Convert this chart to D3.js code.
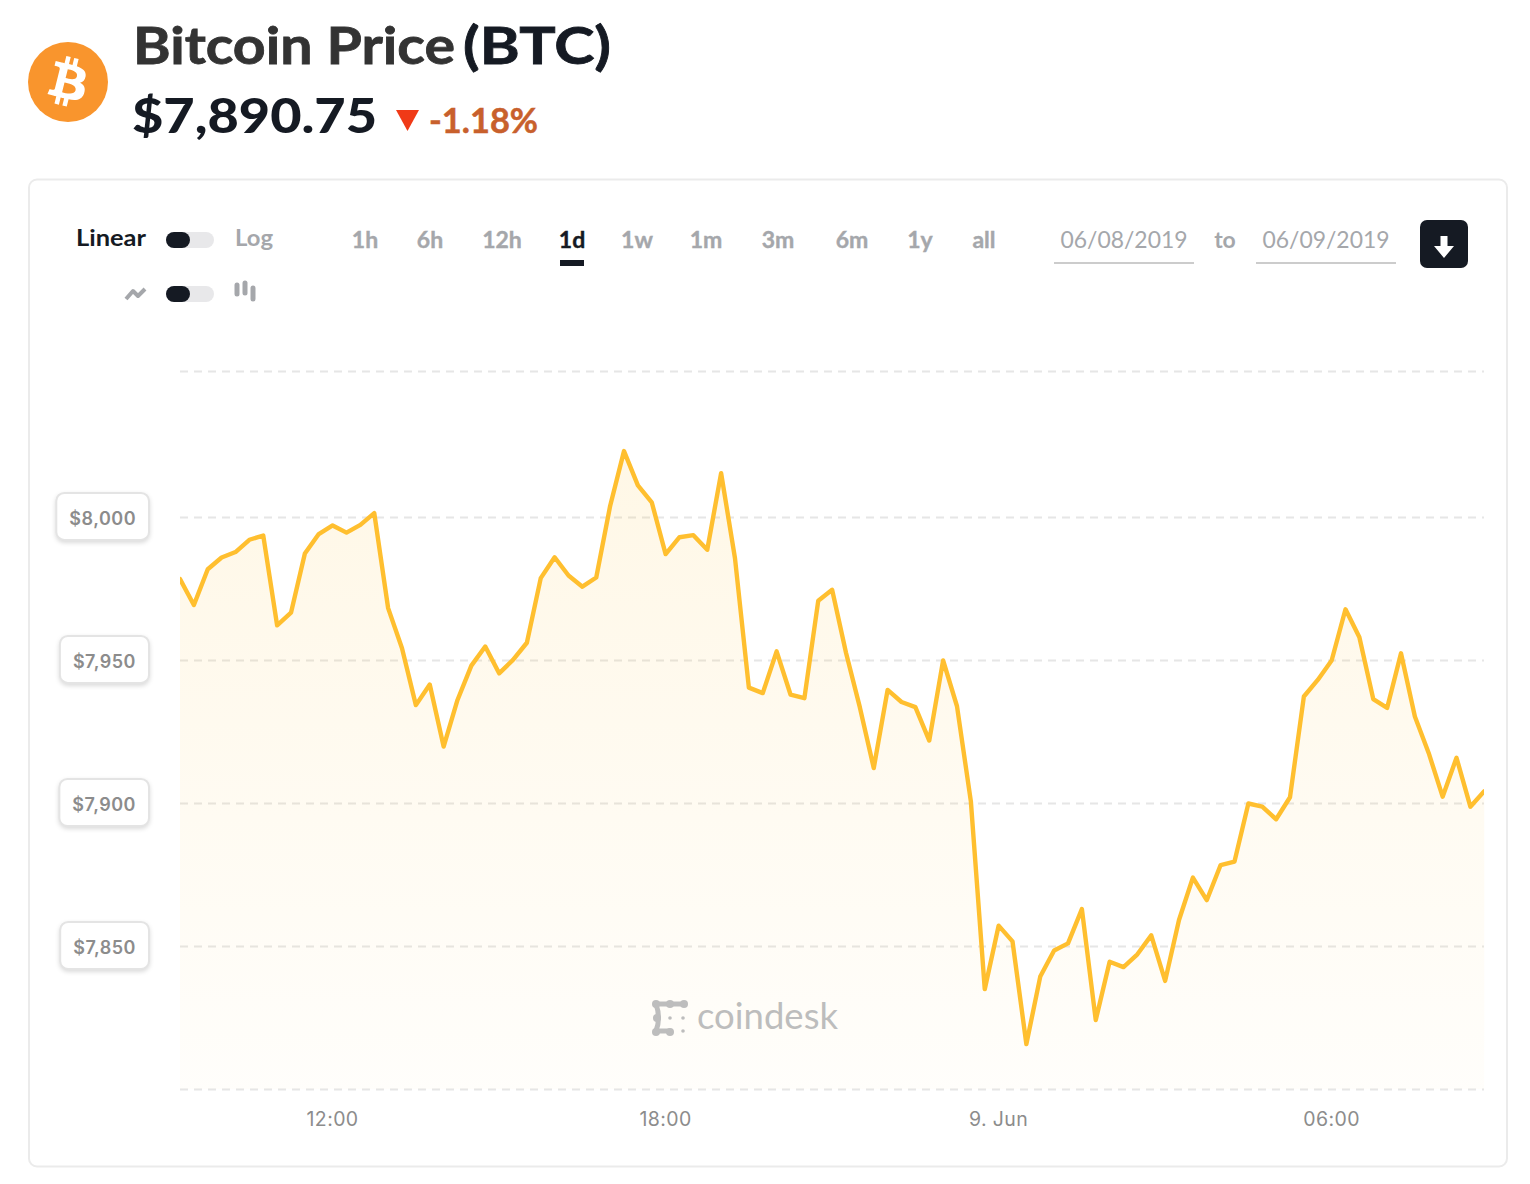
<!DOCTYPE html>
<html>
<head>
<script src="https://cdnjs.cloudflare.com/ajax/libs/d3/7.8.5/d3.min.js"></script>
  <meta charset="utf-8">
  <title>Bitcoin Price (BTC)</title>
</head>
<style>

body {
  margin: 0;
  background: #fff;
}

svg {
  display: block;
}

text {
  font-family: Lato, sans-serif;
}

.grid line {
  stroke: #e6e6e6;
  stroke-width: 2;
  stroke-dasharray: 8 6;
}

.ylabel text {
  font-family: Inter, sans-serif;
  fill: #8c8c8c;
  letter-spacing: .5px;
}

.ylabel rect {
  fill: #fff;
  stroke: #e4e4e4;
  stroke-width: 2;
  filter: drop-shadow(0 2px 2px rgba(0, 0, 0, .14));
}

</style>

<body>
<script>

// one price every 15 minutes
var prices = [
  7978.3, 7969.2, 7981.7, 7985.8, 7987.7, 7992.0, 7993.5, 7962.1, 7966.5, 7987.2,
  7994.0, 7997.0, 7994.5, 7997.2, 8001.3, 7968.1, 7954.1, 7934.2, 7941.4, 7919.7,
  7936.0, 7948.0, 7954.7, 7945.3, 7950.0, 7956.0, 7978.6, 7985.9, 7979.5, 7975.6,
  7978.8, 8003.8, 8023.0, 8011.0, 8005.1, 7987.0, 7992.9, 7993.6, 7988.5, 8015.3,
  7985.5, 7940.3, 7938.4, 7953.0, 7937.9, 7936.6, 7970.7, 7974.5, 7952.5, 7933.4,
  7912.2, 7939.5, 7935.3, 7933.5, 7921.8, 7949.8, 7933.8, 7900.5, 7834.9, 7857.1,
  7851.6, 7815.7, 7839.3, 7848.4, 7850.9, 7862.9, 7824.1, 7844.5, 7842.6, 7847.1,
  7853.7, 7837.8, 7859.1, 7873.9, 7866.0, 7878.3, 7879.5, 7899.8, 7898.7, 7894.3,
  7902.0, 7937.2, 7943.0, 7949.8, 7967.7, 7957.9, 7936.3, 7933.2, 7952.3, 7930.2,
  7917.4, 7902.2, 7915.8, 7898.7, 7904.1
];
var startTime = Date.UTC(2019, 5, 8, 9, 15);
var stepMinutes = 15;

var yLabels = [8000, 7950, 7900, 7850];
var yGrid = [7800, 7850, 7900, 7950, 8000, 8051];
var xTicks = [new Date(Date.UTC(2019, 5, 8, 12)), new Date(Date.UTC(2019, 5, 8, 18)), new Date(Date.UTC(2019, 5, 9, 0)), new Date(Date.UTC(2019, 5, 9, 6))];

var ranges = ['1h', '6h', '12h', '1d', '1w', '1m', '3m', '6m', '1y', 'all'];
var rangeCenters = [365, 430, 502, 572, 637, 706, 778, 852, 920, 984];
var activeRange = '1d';

var dark = '#151a23',
    grey = '#a5a7ab',
    orange = '#ffbf2f';

var times = prices.map(function(d, i) { return startTime + i * stepMinutes * 60000; });

var x = d3.scaleUtc().domain([times[0], times[times.length - 1]]).range([180, 1484.25]);
var y = d3.scaleLinear().domain([7800, 8051]).range([1089, 371]);

var svg = d3.select('body').append('svg').attr('width', 1530).attr('height', 1184);

function label(txt, px, py, size, weight, color, anchor, width) {
  var t = svg.append('text')
    .attr('x', px).attr('y', py)
    .attr('font-size', size).attr('font-weight', weight)
    .attr('fill', color).attr('text-anchor', anchor || 'start')
    .text(txt);
  if (width) t.attr('textLength', width).attr('lengthAdjust', 'spacingAndGlyphs');
  return t;
}

/* header */
var coin = svg.append('g').attr('transform', 'translate(28,42) scale(1.25)');
coin.append('circle').attr('cx', 32).attr('cy', 32).attr('r', 32).attr('fill', '#f9952d');
coin.append('path').attr('fill', '#fff')
  .attr('d', 'm46.103,27.444c0.637-4.258-2.605-6.547-7.038-8.074l1.438-5.768-3.511-0.875-1.4,5.616c-0.923-0.23-1.871-0.447-2.813-0.662l1.41-5.653-3.509-0.875-1.439,5.766c-0.764-0.174-1.514-0.346-2.242-0.527l0.004-0.018-4.842-1.209-0.934,3.75s2.605,0.597,2.55,0.634c1.422,0.355,1.679,1.296,1.636,2.042l-1.638,6.571c0.098,0.025,0.225,0.061,0.365,0.117-0.117-0.029-0.242-0.061-0.371-0.092l-2.296,9.205c-0.174,0.432-0.615,1.08-1.609,0.834,0.035,0.051-2.552-0.637-2.552-0.637l-1.743,4.019,4.569,1.139c0.85,0.213,1.683,0.436,2.503,0.646l-1.453,5.834,3.507,0.875,1.439-5.772c0.958,0.26,1.888,0.5,2.798,0.726l-1.434,5.745,3.511,0.875,1.453-5.823c5.987,1.133,10.489,0.676,12.384-4.739,1.527-4.36-0.076-6.875-3.226-8.515,2.294-0.529,4.022-2.038,4.483-5.155zm-8.022,11.249c-1.085,4.36-8.426,2.003-10.806,1.412l1.928-7.729c2.38,0.594,10.012,1.77,8.878,6.317zm1.086-11.312c-0.99,3.966-7.1,1.951-9.082,1.457l1.748-7.01c1.982,0.494,8.365,1.416,7.334,5.553z');

label('Bitcoin Price', 133, 64, 52, 700, '#333', 'start', 322).attr('stroke', '#333').attr('stroke-width', 0.8);
label('(BTC)', 463, 64, 52, 700, dark, 'start', 148).attr('stroke', dark).attr('stroke-width', 0.8);
label('$7,890.75', 132, 133, 47, 900, dark, 'start', 245);
svg.append('path').attr('d', 'M396,110H419L407.5,131Z').attr('fill', '#f03a17');
label('-1.18%', 429, 133, 35, 700, '#c8602c', 'start', 109).attr('stroke', '#c8602c').attr('stroke-width', 0.5);

/* card */
svg.append('rect').attr('x', 29).attr('y', 179.5).attr('width', 1478).attr('height', 987)
  .attr('rx', 8).attr('fill', '#fff').attr('stroke', '#ebebeb').attr('stroke-width', 2);

/* toggles */
function toggle(ty) {
  svg.append('rect').attr('x', 166).attr('y', ty).attr('width', 48).attr('height', 16).attr('rx', 8).attr('fill', '#e8e8ea');
  svg.append('rect').attr('x', 166).attr('y', ty).attr('width', 24).attr('height', 16).attr('rx', 8).attr('fill', dark);
}
label('Linear', 76, 246, 23, 700, dark, 'start', 70);
toggle(232);
label('Log', 235, 246, 23, 700, grey, 'start', 38);
toggle(286);

svg.append('path').attr('d', 'M126,299L133,291L138,296L145,289')
  .attr('fill', 'none').attr('stroke', grey).attr('stroke-width', 4).attr('stroke-linejoin', 'round');
svg.selectAll('.candle').data([[237, 285, 294], [245, 283, 293], [253, 288, 299]]).enter().append('line')
  .attr('class', 'candle')
  .attr('x1', function(d) { return d[0]; }).attr('x2', function(d) { return d[0]; })
  .attr('y1', function(d) { return d[1]; }).attr('y2', function(d) { return d[2]; })
  .attr('stroke', grey).attr('stroke-width', 5).attr('stroke-linecap', 'round');

/* range buttons */
ranges.forEach(function(r, i) {
  label(r, rangeCenters[i], 248, 23, 700, r === activeRange ? dark : grey, 'middle').attr('stroke', r === activeRange ? dark : grey).attr('stroke-width', 0.4);
});
svg.append('rect').attr('x', 560).attr('y', 260).attr('width', 24).attr('height', 6).attr('fill', dark);

/* dates */
label('06/08/2019', 1124, 248, 23, 400, grey, 'middle', 127);
label('to', 1225, 248, 23, 700, grey, 'middle');
label('06/09/2019', 1326, 248, 23, 400, grey, 'middle', 127);
svg.append('rect').attr('x', 1054).attr('y', 262).attr('width', 140).attr('height', 2).attr('fill', '#ccc');
svg.append('rect').attr('x', 1256).attr('y', 262).attr('width', 140).attr('height', 2).attr('fill', '#ccc');

/* download button */
svg.append('rect').attr('x', 1420).attr('y', 220).attr('width', 48).attr('height', 48).attr('rx', 7).attr('fill', dark);
svg.append('path').attr('fill', '#fff').attr('d', 'M1440.5,236H1447.5V246H1454L1444,258L1434,246H1440.5Z');

/* chart */
var defs = svg.append('defs');
var grad = defs.append('linearGradient').attr('id', 'fade')
  .attr('gradientUnits', 'userSpaceOnUse')
  .attr('x1', 0).attr('x2', 0).attr('y1', y(d3.max(prices))).attr('y2', y(7800));
grad.append('stop').attr('offset', 0).attr('stop-color', orange).attr('stop-opacity', 0.12);
grad.append('stop').attr('offset', 1).attr('stop-color', orange).attr('stop-opacity', 0.02);

var grid = svg.append('g').attr('class', 'grid').attr('transform', 'translate(180,0)')
  .call(d3.axisLeft(y).tickValues(yGrid).tickSize(-1304).tickFormat(''));
grid.select('.domain').remove();

var area = d3.area()
  .x(function(d, i) { return x(times[i]); })
  .y0(y(7800))
  .y1(function(d) { return y(d); });

var line = d3.line()
  .x(function(d, i) { return x(times[i]); })
  .y(function(d) { return y(d); });

svg.append('path').datum(prices).attr('d', area).attr('fill', 'url(#fade)');

/* watermark */
var mark = svg.append('g').attr('fill', 'none').attr('stroke', '#bdbdbd').attr('stroke-linecap', 'round').attr('stroke-linejoin', 'round');
mark.append('path').attr('stroke-width', 5).attr('d', 'M656,1004H684');
mark.append('path').attr('stroke-width', 5).attr('d', 'M656,1004Q661,1018 656,1031H670');
svg.selectAll('.blob').data([[656, 1004], [670, 1004], [684, 1004], [657, 1018], [656, 1032], [670, 1032]]).enter().append('circle')
  .attr('class', 'blob')
  .attr('cx', function(d) { return d[0]; }).attr('cy', function(d) { return d[1]; })
  .attr('r', 4).attr('fill', '#bdbdbd');
svg.selectAll('.dot').data([[670, 1018], [683, 1018], [683, 1031]]).enter().append('circle')
  .attr('class', 'dot')
  .attr('cx', function(d) { return d[0]; }).attr('cy', function(d) { return d[1]; })
  .attr('r', 1.8).attr('fill', '#bdbdbd');
label('coindesk', 697, 1029, 36, 400, '#bdbdbd', 'start', 141);

svg.append('path').datum(prices).attr('d', line)
  .attr('fill', 'none').attr('stroke', orange).attr('stroke-width', 4.4)
  .attr('stroke-linejoin', 'round').attr('stroke-linecap', 'round')
  .attr('clip-path', 'url(#plot)');
defs.append('clipPath').attr('id', 'plot').append('rect')
  .attr('x', 180).attr('y', 300).attr('width', 1304).attr('height', 800);

var xAxis = svg.append('g').attr('transform', 'translate(-0.6,1126)')
  .call(d3.axisBottom(x).tickValues(xTicks).tickSize(0).tickPadding(0).tickFormat(function(d) {
    return d.getUTCHours() === 0 ? d.getUTCDate() + '. Jun' : d3.utcFormat('%H:%M')(d);
  }));
xAxis.select('.domain').remove();
xAxis.selectAll('text').attr('dy', 0).attr('y', 0)
  .style('font-family', 'Inter, sans-serif').style('font-size', '19.5px').style('letter-spacing', '.4px').style('fill', '#8c8c8c');

var dollar = d3.format('$,');
var ylabel = svg.selectAll('.ylabel').data(yLabels).enter().append('g')
  .attr('class', 'ylabel')
  .attr('transform', function(d) { return 'translate(0,' + y(d) + ')'; });

ylabel.append('rect').attr('rx', 8).attr('height', 47).attr('y', -24);
ylabel.append('text')
  .attr('text-anchor', 'end').attr('x', 136).attr('y', 8.5)
  .attr('font-size', 18).attr('font-weight', 600)
  .text(function(d) { return dollar(d); });
ylabel.each(function() {
  var g = d3.select(this),
      w = g.select('text').node().getComputedTextLength() + 26;
  g.select('rect').attr('x', 149 - w).attr('width', w);
});

</script>

</body>
</html>
